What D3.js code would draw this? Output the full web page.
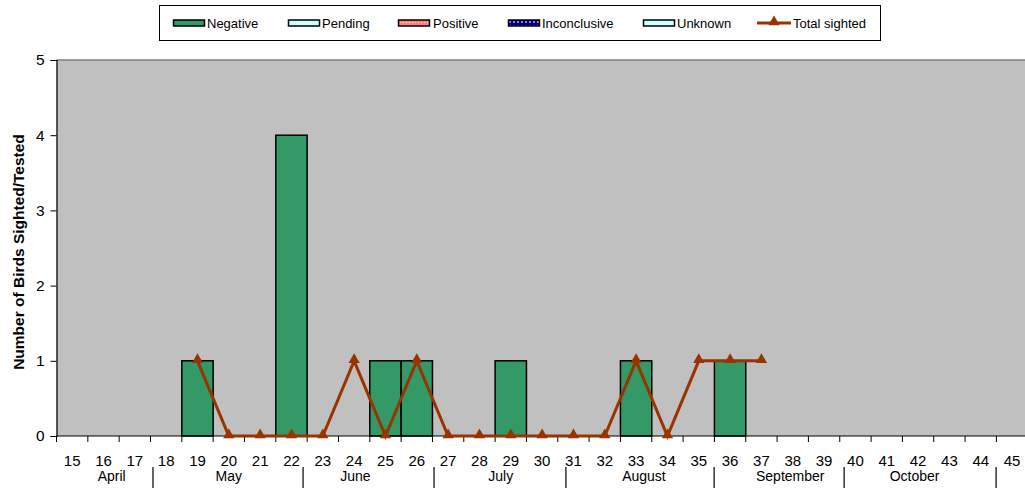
<!DOCTYPE html>
<html>
<head>
<meta charset="utf-8">
<script src="https://cdn.jsdelivr.net/npm/d3@7"></script>
<style>
  html, body { margin: 0; padding: 0; background: #ffffff; }
  svg { display: block; font-family: "Liberation Sans", Arial, sans-serif; }
</style>
</head>
<body>
<svg id="chart" width="1025" height="491"></svg>
<script>
// ---- data ----
const weeks = ["15","16","17","18","19","20","21","22","23","24","25","26","27","28","29","30",
               "31","32","33","34","35","36","37","38","39","40","41","42","43","44","45"];
const negative = [0,0,0,0,1,0,0,4,0,0,1,1,0,0,1,0,0,0,1,0,0,1,0,0,0,0,0,0,0,0,0];
const sightedWeeks = ["19","20","21","22","23","24","25","26","27","28","29","30","31","32","33","34","35","36","37"];
const totalSighted = [1,0,0,0,0,1,0,1,0,0,0,0,0,0,1,0,1,1,1];
const yTicks = [0,1,2,3,4,5];
const months = ["April","May","June","July","August","September","October"];
const monthCenters = [16.26, 20.0, 24.04, 28.68, 33.25, 37.92, 41.89];   // in week units
const monthBounds = [17.58, 22.37, 26.55, 30.76, 35.49, 39.64, 44.49];   // in week units
const legendItems = ["Negative","Pending","Positive","Inconclusive","Unknown","Total sighted"];

(function () {
// ---- layout ----
const svg = d3.select("#chart");
const pLeft = 56.5, pTop = 60, pBottom = 436;
const catW = 31.33;
const pRight = pLeft + catW * weeks.length;

const x = d3.scaleBand().domain(weeks).range([pLeft, pRight]).padding(0);
const xw = d3.scaleLinear().domain([14.5, 14.5 + weeks.length]).range([pLeft, pRight]); // continuous week scale
const y = d3.scaleLinear().domain([0, 5]).range([pBottom, pTop]);

// patterns
const defs = svg.append("defs");
const pPos = defs.append("pattern").attr("id","posPat").attr("patternUnits","userSpaceOnUse")
  .attr("width",3).attr("height",3);
pPos.append("rect").attr("width",3).attr("height",3).attr("fill","#ff8080");
pPos.append("rect").attr("x",1).attr("y",1).attr("width",1).attr("height",1).attr("fill","#ffd0d0");
const pInc = defs.append("pattern").attr("id","incPat").attr("patternUnits","userSpaceOnUse")
  .attr("width",4).attr("height",4);
pInc.append("rect").attr("width",4).attr("height",4).attr("fill","#000080");
pInc.append("rect").attr("x",1).attr("y",1).attr("width",2).attr("height",2).attr("fill","#8080ff");

// plot background
svg.append("rect").attr("x", pLeft).attr("y", pTop).attr("width", pRight - pLeft).attr("height", pBottom - pTop)
  .attr("fill", "#c0c0c0");
svg.append("line").attr("x1", pLeft).attr("x2", pRight).attr("y1", pTop).attr("y2", pTop)
  .attr("stroke", "#808080").attr("stroke-width", 1.5);

// bars
svg.append("g").selectAll("rect").data(weeks.map((w, i) => ({w, v: negative[i]})).filter(d => d.v > 0))
  .join("rect")
  .attr("x", d => x(d.w)).attr("width", x.bandwidth())
  .attr("y", d => y(d.v)).attr("height", d => y(0) - y(d.v))
  .attr("fill", "#339966").attr("stroke", "#000").attr("stroke-width", 1.5);

// axes
const yAxis = d3.axisLeft(y).tickValues(yTicks).tickSize(6).tickPadding(6).tickFormat(d3.format("d"));
const gy = svg.append("g").attr("transform", `translate(${pLeft},0)`).call(yAxis);
gy.select(".domain").attr("stroke", "#000").attr("stroke-width", 1.2);
gy.selectAll(".tick line").attr("stroke", "#000");
gy.selectAll(".tick text").attr("font-size", 15.5).attr("font-family", "Liberation Sans, Arial, sans-serif").attr("fill","#000");

const gx = svg.append("g").attr("transform", `translate(0,${pBottom})`)
  .call(d3.axisBottom(x).tickSize(0).tickPadding(0));
gx.select(".domain").remove();
gx.selectAll(".tick text").attr("font-size", 15).attr("font-family", "Liberation Sans, Arial, sans-serif")
  .attr("fill","#000").attr("dy", null).attr("y", 29.7);
gx.append("line").attr("x1", pLeft).attr("x2", pRight).attr("y1", 0).attr("y2", 0)
  .attr("stroke", "#000").attr("stroke-width", 1.2);
gx.selectAll("line.bound").data(d3.range(weeks.length + 1)).join("line").attr("class","bound")
  .attr("x1", i => pLeft + i * x.step()).attr("x2", i => pLeft + i * x.step())
  .attr("y1", 0).attr("y2", 6).attr("stroke", "#000");

// month labels and separators
svg.append("g").selectAll("text").data(months).join("text")
  .attr("x", (m, i) => xw(monthCenters[i])).attr("y", 481)
  .attr("text-anchor", "middle").attr("font-size", 14).attr("fill", "#000").text(m => m);
svg.append("g").selectAll("line").data(monthBounds).join("line")
  .attr("x1", d => xw(d)).attr("x2", d => xw(d)).attr("y1", 467).attr("y2", 488)
  .attr("stroke", "#000").attr("stroke-width", 1.2);

// y title
svg.append("text").attr("transform", "translate(24,252) rotate(-90)")
  .attr("text-anchor", "middle").attr("font-size", 15.5).attr("font-weight", "bold").attr("fill","#000")
  .text("Number of Birds Sighted/Tested");

// total sighted line
const lineColor = "#993300";
const pts = sightedWeeks.map((w, i) => ({w, v: totalSighted[i]}));
const line = d3.line().x(d => x(d.w) + x.bandwidth() / 2).y(d => y(d.v));
svg.append("path").datum(pts).attr("d", line).attr("fill", "none")
  .attr("stroke", lineColor).attr("stroke-width", 3).attr("stroke-linejoin", "miter");
const tri = d3.symbol().type(d3.symbolTriangle).size(55);
svg.append("g").selectAll("path").data(pts).join("path")
  .attr("d", tri).attr("transform", d => `translate(${x(d.w) + x.bandwidth() / 2},${y(d.v) - 1})`)
  .attr("fill", lineColor);

// legend
const lg = svg.append("g");
lg.append("rect").attr("x", 159.5).attr("y", 5.5).attr("width", 721).attr("height", 35)
  .attr("fill", "#fff").attr("stroke", "#000").attr("stroke-width", 1);
const swX = [173, 288, 398, 508, 643, 757];
const txX = [207, 322, 433, 542, 677, 793];
const fills = ["#339966", "#ccffff", "url(#posPat)", "url(#incPat)", "#ccffff"];
legendItems.forEach((name, i) => {
  if (i < 5) {
    lg.append("rect").attr("x", swX[i] + 0.5).attr("y", 20).attr("width", 31).attr("height", 6)
      .attr("fill", fills[i]).attr("stroke", "#000").attr("stroke-width", 1.5);
  } else {
    lg.append("line").attr("x1", swX[i]).attr("x2", swX[i] + 34).attr("y1", 23).attr("y2", 23)
      .attr("stroke", lineColor).attr("stroke-width", 3);
    lg.append("path").attr("d", tri).attr("transform", `translate(${swX[i] + 17},22)`).attr("fill", lineColor);
  }
  lg.append("text").attr("x", txX[i]).attr("y", 28).attr("font-size", 13).attr("fill", "#000").text(name);
});
})();
</script>
</body>
</html>
